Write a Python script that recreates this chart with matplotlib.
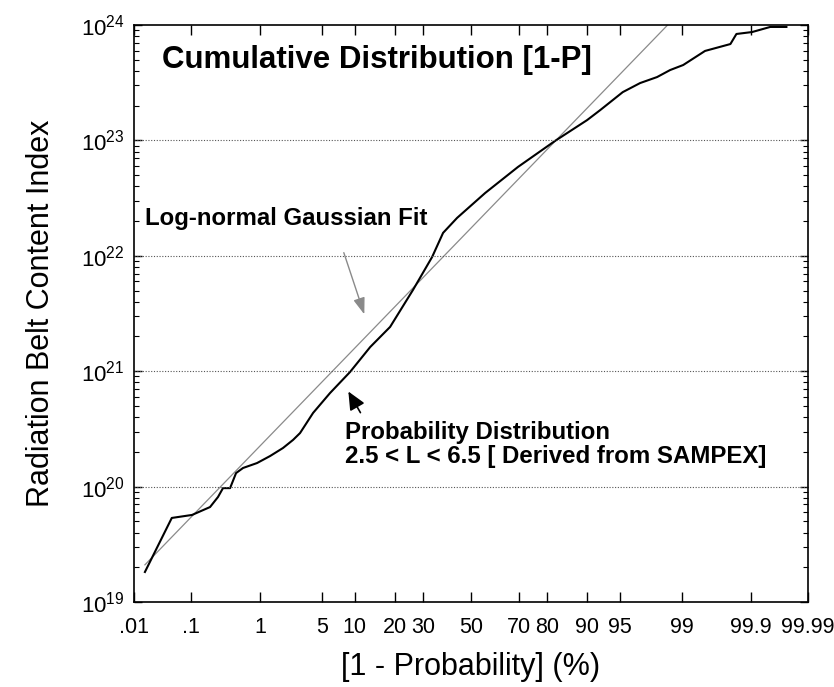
import numpy as np
import matplotlib
matplotlib.use("Agg")
import matplotlib.pyplot as plt
from matplotlib.ticker import LogLocator, NullLocator, NullFormatter, LogFormatterSciNotation
from statistics import NormalDist

plt.rcParams['font.family'] = ['Liberation Sans', 'DejaVu Sans']
plt.rcParams['mathtext.fontset'] = 'custom'
plt.rcParams['mathtext.rm'] = 'Liberation Sans'
plt.rcParams['xtick.direction'] = 'in'
plt.rcParams['ytick.direction'] = 'in'

# cumulative distribution [1-P] in percent, and content index
prob_pct = [0.016, 0.048, 0.104, 0.199, 0.262, 0.310, 0.392, 0.476, 0.594, 0.911,
            1.33, 1.90, 2.48, 2.96, 4.07, 5.99, 9.09, 13.3, 18.6, 26.1,
            33.4, 37.9, 43.9, 56.2, 69.8, 82.3, 90.0, 92.3, 95.3, 96.9,
            98.0, 98.6, 99.04, 99.51, 99.79, 99.83, 99.904, 99.952, 99.975]
content = [1.82e19, 5.35e19, 5.68e19, 6.65e19, 8.13e19, 9.7e19, 9.7e19, 1.31e20, 1.45e20, 1.60e20,
           1.84e20, 2.16e20, 2.54e20, 2.91e20, 4.35e20, 6.47e20, 9.84e20, 1.62e21, 2.42e21, 5.06e21,
           9.77e21, 1.58e22, 2.13e22, 3.50e22, 5.89e22, 9.89e22, 1.50e23, 1.83e23, 2.62e23, 3.14e23,
           3.54e23, 4.07e23, 4.50e23, 5.96e23, 6.84e23, 8.36e23, 8.69e23, 9.62e23, 9.62e23]

# log-normal fit: straight line on probability paper
fit_pct = [0.016, 98.5]
fit_content = [2.1e19, 1.0e24]

xtick_vals = [0.01, 0.1, 1, 5, 10, 20, 30, 50, 70, 80, 90, 95, 99, 99.9, 99.99]
xtick_labels = ['.01', '.1', '1', '5', '10', '20', '30', '50', '70', '80', '90', '95', '99', '99.9', '99.99']

_nd = NormalDist()
_ppf = np.vectorize(_nd.inv_cdf, otypes=[float])
_cdf = np.vectorize(_nd.cdf, otypes=[float])


def probit(p):
    p = np.clip(np.asarray(p, dtype=float) / 100.0, 1e-12, 1 - 1e-12)
    return _ppf(p)


def probit_inv(z):
    return _cdf(np.asarray(z, dtype=float)) * 100.0


fig = plt.figure(figsize=(8.34, 6.87), dpi=100)
ax = fig.add_axes([134 / 834, 1 - 602 / 687, 674 / 834, 577 / 687])

ax.set_xscale('function', functions=(probit, probit_inv))
ax.set_yscale('log')
ax.set_xlim(0.01, 99.99)
ax.set_ylim(1e19, 1e24)

ax.plot(fit_pct, fit_content, color='#8a8a8a', lw=0.9)
ax.plot(prob_pct, content, color='black', lw=1.5)

for v in [1e20, 1e21, 1e22, 1e23]:
    ax.axhline(v, color='#555555', lw=0.8, ls=(0, (1, 1.5)))

ax.set_xticks(xtick_vals)
ax.set_xticklabels(xtick_labels)
ax.xaxis.set_minor_locator(NullLocator())
ax.yaxis.set_major_locator(LogLocator(base=10, numticks=10))
ax.yaxis.set_minor_locator(LogLocator(base=10, subs=np.arange(2, 10), numticks=10))
ax.yaxis.set_minor_formatter(NullFormatter())
ax.yaxis.set_major_formatter(LogFormatterSciNotation())

ax.tick_params(axis='x', which='major', length=7, width=1, top=True, pad=11, labelsize=15.5)
ax.tick_params(axis='y', which='major', length=6, width=1, right=True, pad=7, labelsize=16)
ax.tick_params(axis='y', which='minor', length=3.5, width=0.8, right=True)
for s in ax.spines.values():
    s.set_linewidth(1.2)

ax.set_ylabel('Radiation Belt Content Index', fontsize=22, labelpad=18)
ax.set_xlabel('[1 - Probability] (%)', fontsize=22, labelpad=10)

ax.text(0.0415, 0.939, 'Cumulative Distribution [1-P]', transform=ax.transAxes,
        fontsize=22.5, fontweight='bold', va='center', ha='left')
ax.text(0.0163, 0.664, 'Log-normal Gaussian Fit', transform=ax.transAxes,
        fontsize=17.3, fontweight='bold', va='center', ha='left')
ax.text(0.313, 0.273, 'Probability Distribution\n2.5 < L < 6.5 [ Derived from SAMPEX]',
        transform=ax.transAxes, fontsize=17.3, fontweight='bold', va='center', ha='left',
        linespacing=1.05)

ax.annotate('', xy=(0.343, 0.494), xytext=(0.310, 0.610), xycoords='axes fraction',
            arrowprops=dict(arrowstyle='-|>,head_length=1.0,head_width=0.35',
                            color='#8a8a8a', lw=1.0))
ax.annotate('', xy=(0.316, 0.369), xytext=(0.338, 0.324), xycoords='axes fraction',
            arrowprops=dict(arrowstyle='-|>,head_length=1.1,head_width=0.5',
                            color='black', lw=1.2))

fig.savefig('out.png', dpi=100)
